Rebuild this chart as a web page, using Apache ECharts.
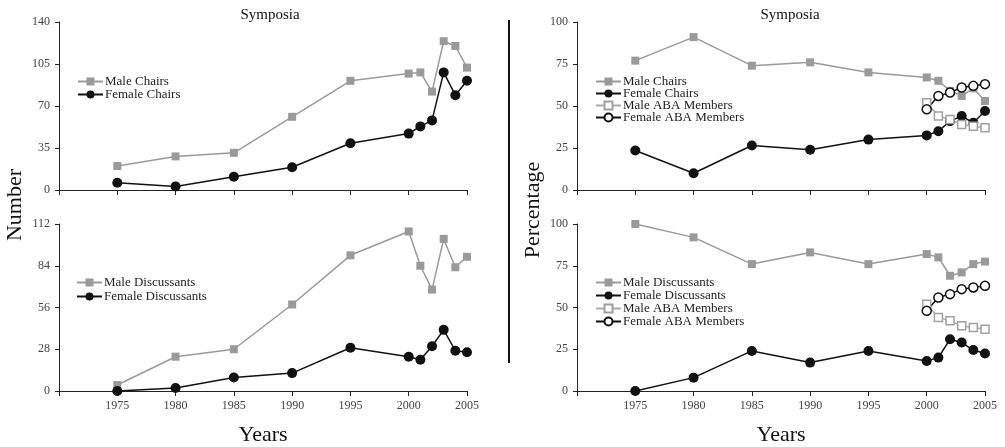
<!DOCTYPE html>
<html>
<head>
<meta charset="utf-8">
<script src="https://cdn.jsdelivr.net/npm/echarts@6/dist/echarts.min.js"></script>
<style>
html,body{margin:0;padding:0;background:#fff;}
#c{width:1005px;height:447px;}
</style>
</head>
<body>
<div id="c"></div>
<script>
// ---- data ----
var years = [1975, 1980, 1985, 1990, 1995, 2000, 2001, 2002, 2003, 2004, 2005];
var abaYears = [2000, 2001, 2002, 2003, 2004, 2005];

var maleChairsN = [20, 28, 31, 61, 91, 97, 98, 82, 124, 120, 102];
var femaleChairsN = [6, 3, 11, 19, 39, 47, 53, 58, 98, 79, 91];

var maleDiscN = [4, 23, 28, 58, 91, 107, 84, 68, 102, 83, 90];
var femaleDiscN = [0, 2, 9, 12, 29, 23, 21, 30, 41, 27, 26];

var maleChairsP = [77, 91, 74, 76, 70, 67, 65, 59, 56, 60.5, 53];
var femaleChairsP = [23.5, 10, 26.5, 24, 30, 32.5, 35, 41, 44, 40, 47];

var maleDiscP = [100, 92, 76, 83, 76, 82, 80, 69, 71, 76, 77.5];
var femaleDiscP = [0, 8, 24, 17, 24, 18, 20, 31, 29, 24.5, 22.5];

var maleAbaP = [52, 44, 42, 39, 38, 37];
var femaleAbaP = [48, 56, 58, 61, 62, 63];

var xTicks = [1975, 1980, 1985, 1990, 1995, 2000, 2005];
var yTicksChairsN = [0, 35, 70, 105, 140];
var yTicksDiscN = [0, 28, 56, 84, 112];
var yTicksP = [0, 25, 50, 75, 100];

// ---- helpers ----
var FONT = "'Liberation Serif', 'DejaVu Serif', serif";
var GREY = '#9a9a9a';
var BLACK = '#111';

function pairs(xs, ys) { return xs.map(function (x, i) { return [x, ys[i]]; }); }

function xAxisOf(gi, showLabels) {
  return {
    type: 'value', gridIndex: gi, min: 1970, max: 2005, interval: 5,
    splitLine: { show: false },
    axisLine: { show: true, lineStyle: { color: '#222', width: 1 } },
    axisTick: { show: true, length: 5, inside: false, lineStyle: { color: '#222' } },
    axisLabel: {
      show: showLabels, color: '#444', fontFamily: FONT, fontSize: 12, margin: 9,
      formatter: function (v) { return xTicks.indexOf(v) >= 0 ? String(v) : ''; }
    },
    name: showLabels ? 'Years' : '', nameLocation: 'middle', nameGap: 33,
    nameTextStyle: { fontFamily: FONT, fontSize: 22, color: '#111' }
  };
}
function yAxisOf(gi, ticks) {
  return {
    type: 'value', gridIndex: gi, min: ticks[0], max: ticks[ticks.length - 1],
    interval: ticks[1] - ticks[0],
    splitLine: { show: false },
    axisLine: { show: true, lineStyle: { color: '#222', width: 1 } },
    axisTick: { show: true, length: 4, lineStyle: { color: '#222' } },
    axisLabel: { color: '#444', fontFamily: FONT, fontSize: 12, margin: 9 }
  };
}
function s(name, gi, data, kind) {
  var o = { name: name, type: 'line', xAxisIndex: gi, yAxisIndex: gi, data: data, animation: false, z: 2 };
  if (kind === 'mf') { // male filled square
    o.symbol = 'rect'; o.symbolSize = 8;
    o.lineStyle = { color: GREY, width: 1.5 }; o.itemStyle = { color: GREY, borderColor: GREY, borderWidth: 0 };
  } else if (kind === 'ff') { // female filled circle
    o.symbol = 'circle'; o.symbolSize = 10;
    o.lineStyle = { color: BLACK, width: 1.5 }; o.itemStyle = { color: BLACK, borderColor: BLACK, borderWidth: 0 };
  } else if (kind === 'mo') { // male open square
    o.symbol = 'rect'; o.symbolSize = 8;
    o.lineStyle = { color: '#aaa', width: 1.5 }; o.itemStyle = { color: '#fff', borderColor: '#a0a0a0', borderWidth: 1.5 };
  } else { // female open circle
    o.symbol = 'circle'; o.symbolSize = 9;
    o.lineStyle = { color: BLACK, width: 1.5 }; o.itemStyle = { color: '#fff', borderColor: BLACK, borderWidth: 1.5 };
  }
  return o;
}
function legendOf(left, top, names, gap) {
  return {
    orient: 'vertical', left: left, top: top, itemWidth: 25, itemHeight: 10, itemGap: gap,
    padding: 0, selectedMode: false, data: names,
    textStyle: { fontFamily: FONT, fontSize: 13, color: '#222', padding: [0, 0, 0, -3] }
  };
}

var chart = echarts.init(document.getElementById('c'), null, { renderer: 'canvas' });
chart.setOption({
  backgroundColor: '#fff',
  animation: false,
  textStyle: { fontFamily: FONT },
  title: [
    { text: 'Symposia', left: 265, top: 3, textAlign: 'center', textStyle: { fontFamily: FONT, fontSize: 15, fontWeight: 'normal', color: '#111' } },
    { text: 'Symposia', left: 785, top: 3, textAlign: 'center', textStyle: { fontFamily: FONT, fontSize: 15, fontWeight: 'normal', color: '#111' } }
  ],
  grid: [
    { left: 59, top: 22, width: 408, height: 168 },
    { left: 59, top: 224, width: 408, height: 168 },
    { left: 577, top: 22, width: 408, height: 168 },
    { left: 577, top: 224, width: 408, height: 169 }
  ],
  xAxis: [xAxisOf(0, false), xAxisOf(1, true), xAxisOf(2, false), xAxisOf(3, true)],
  yAxis: [yAxisOf(0, yTicksChairsN), yAxisOf(1, yTicksDiscN), yAxisOf(2, yTicksP), yAxisOf(3, yTicksP)],
  legend: [
    legendOf(77, 75, ['Male Chairs', 'Female Chairs'], 0),
    legendOf(76, 276, ['Male Discussants', 'Female Discussants'], 1),
    legendOf(595, 75, ['Male Chairs ', 'Female Chairs ', 'Male ABA Members', 'Female ABA Members'], -1),
    legendOf(595, 276, ['Male Discussants ', 'Female Discussants ', 'Male ABA Members ', 'Female ABA Members '], 0)
  ],
  graphic: [
    { type: 'text', x: 15, y: 205, rotation: Math.PI / 2, style: { text: 'Number', font: '22px ' + FONT, fill: '#111', textAlign: 'center', textVerticalAlign: 'middle' } },
    { type: 'text', x: 533, y: 210, rotation: Math.PI / 2, style: { text: 'Percentage', font: '22px ' + FONT, fill: '#111', textAlign: 'center', textVerticalAlign: 'middle' } },
    { type: 'line', shape: { x1: 509, y1: 20, x2: 509, y2: 363 }, style: { stroke: '#111', lineWidth: 2 } }
  ],
  series: [
    s('Male Chairs', 0, pairs(years, maleChairsN), 'mf'),
    s('Female Chairs', 0, pairs(years, femaleChairsN), 'ff'),
    s('Male Discussants', 1, pairs(years, maleDiscN), 'mf'),
    s('Female Discussants', 1, pairs(years, femaleDiscN), 'ff'),
    s('Male Chairs ', 2, pairs(years, maleChairsP), 'mf'),
    s('Female Chairs ', 2, pairs(years, femaleChairsP), 'ff'),
    s('Male ABA Members', 2, pairs(abaYears, maleAbaP), 'mo'),
    s('Female ABA Members', 2, pairs(abaYears, femaleAbaP), 'fo'),
    s('Male Discussants ', 3, pairs(years, maleDiscP), 'mf'),
    s('Female Discussants ', 3, pairs(years, femaleDiscP), 'ff'),
    s('Male ABA Members ', 3, pairs(abaYears, maleAbaP), 'mo'),
    s('Female ABA Members ', 3, pairs(abaYears, femaleAbaP), 'fo')
  ]
});
</script>
</body>
</html>
